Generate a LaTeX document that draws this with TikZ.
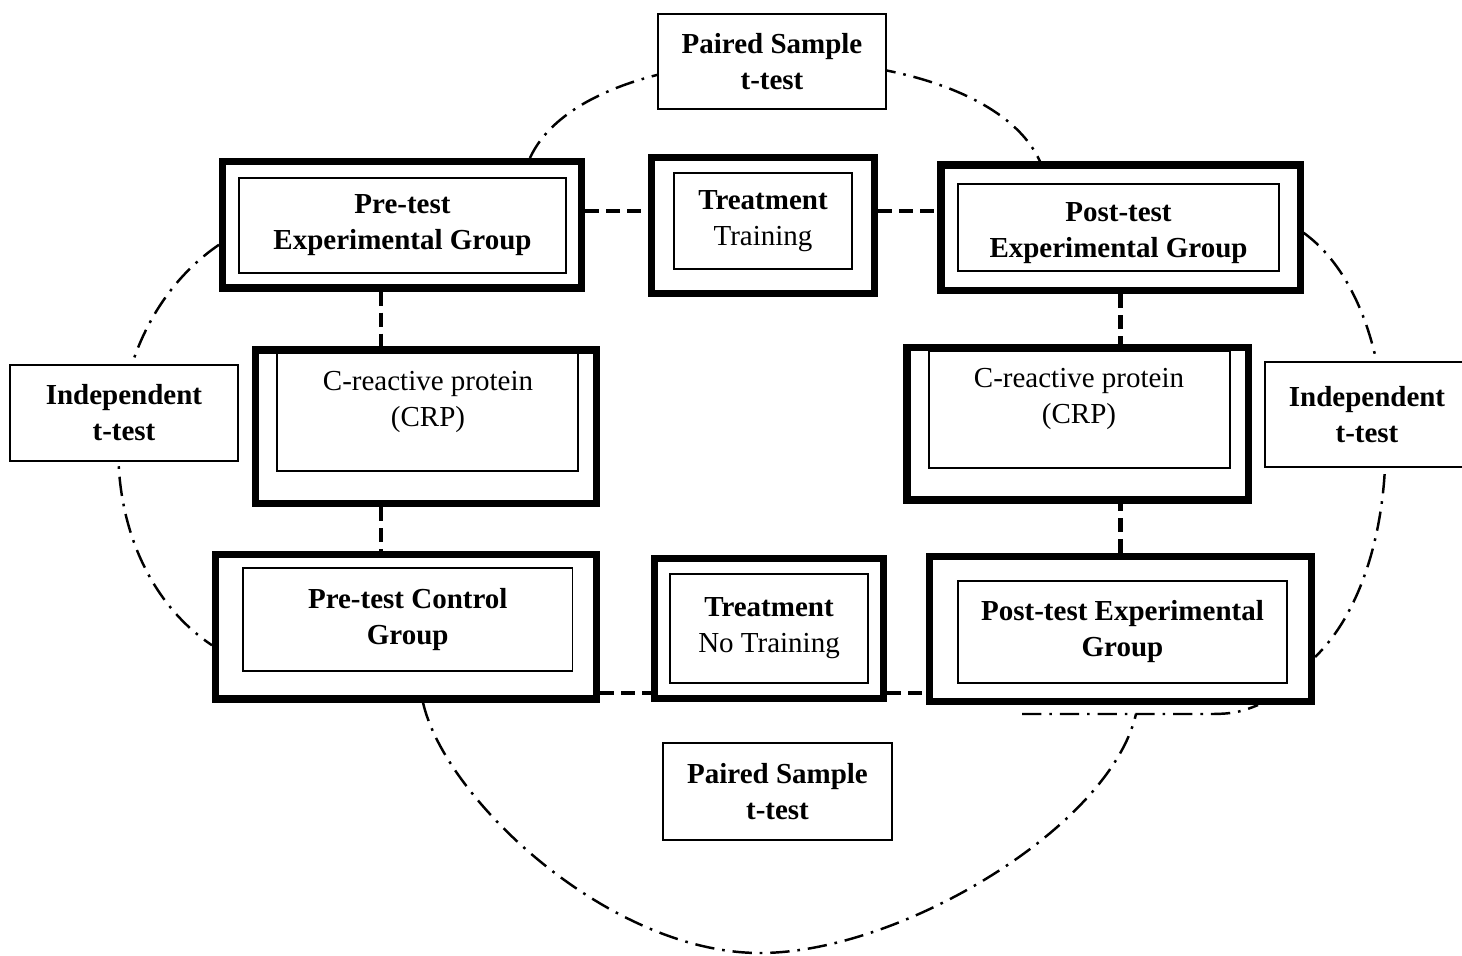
\documentclass[tikz,border=0pt]{standalone}
\usepackage{fontspec}
\setmainfont{Liberation Serif}
\usepackage{tikz}
\usetikzlibrary{positioning,calc,backgrounds}
\newcommand{\boxfont}{\fontsize{16.5}{20.5}\selectfont}

\begin{document}
\begin{tikzpicture}[
    outerbox/.style={rectangle, draw, line width=4pt, fill=white, inner sep=0pt},
    innerbox/.style={rectangle, draw, line width=0.8pt, fill=white, inner sep=0pt, align=center, font=\boxfont\bfseries},
    testbox/.style={rectangle, draw, line width=0.8pt, fill=white, inner sep=0pt, align=center, font=\boxfont\bfseries},
    txt/.style={align=center, font=\boxfont},
    link/.style={line width=2.4pt, dash pattern=on 8pt off 4pt},
    arcline/.style={line width=1.4pt, dash pattern=on 11pt off 4.5pt on 1.5pt off 4.5pt},
]
    \useasboundingbox (0,0) rectangle (29.24,-19.1);

    % Statistical tests
    \node[testbox, minimum width=4.56cm, minimum height=1.9cm] (pairedt) at (15.44,-1.23) {Paired Sample\\t-test};
    \node[testbox, minimum width=4.56cm, minimum height=1.92cm] (indl) at (2.48,-8.26) {Independent\\t-test};
    \node[testbox, minimum width=4.08cm, minimum height=2.1cm] (indr) at (27.34,-8.29) {Independent\\t-test};
    \node[testbox, minimum width=4.58cm, minimum height=1.94cm] (pairedb) at (15.55,-15.83) {Paired Sample\\t-test};

    % Experimental row
    \node[outerbox, minimum width=7.18cm, minimum height=2.53cm] (preexp) at (8.04,-4.495) {};
    \node[innerbox, minimum width=6.54cm, minimum height=1.9cm] (preexpin) at (8.05,-4.51) {Pre-test\\Experimental Group};
    \node[outerbox, minimum width=4.46cm, minimum height=2.72cm] (treat) at (15.26,-4.51) {};
    \node[innerbox, minimum width=3.56cm, minimum height=1.92cm] (treatin) at (15.26,-4.42) {Treatment\\{\mdseries Training}};
    \node[outerbox, minimum width=7.18cm, minimum height=2.51cm] (postexp) at (22.41,-4.555) {};
    \node[innerbox, minimum width=6.42cm, minimum height=1.74cm] (postexpin) at (22.37,-4.55) {};
    \node[txt, font=\boxfont\bfseries] (postexptxt) at (22.37,-4.66) {Post-test\\Experimental Group};

    % CRP measures
    \node[outerbox, minimum width=6.82cm, minimum height=3.07cm] (crpl) at (8.52,-8.535) {};
    \node[innerbox, minimum width=6.02cm, minimum height=2.36cm] (crplin) at (8.55,-8.24) {};
    \node[txt] (crpltxt) at (8.56,-8.04) {C-reactive protein\\(CRP)};
    \node[outerbox, minimum width=6.82cm, minimum height=3.05cm] (crpr) at (21.55,-8.475) {};
    \node[innerbox, minimum width=6.02cm, minimum height=2.34cm] (crprin) at (21.59,-8.19) {};
    \node[txt] (crprtxt) at (21.58,-7.98) {C-reactive protein\\(CRP)};

    % Control row
    \node[outerbox, minimum width=7.62cm, minimum height=2.89cm] (precon) at (8.12,-12.535) {};
    \node[innerbox, minimum width=6.59cm, minimum height=2.06cm] (preconin) at (8.155,-12.39) {Pre-test Control\\Group};
    \node[outerbox, minimum width=4.58cm, minimum height=2.8cm] (treatnt) at (15.38,-12.57) {};
    \node[innerbox, minimum width=3.96cm, minimum height=2.18cm] (treatntin) at (15.38,-12.57) {Treatment\\{\mdseries No Training}};
    \node[outerbox, minimum width=7.64cm, minimum height=2.9cm] (postbot) at (22.41,-12.58) {};
    \node[innerbox, minimum width=6.58cm, minimum height=2.04cm] (postbotin) at (22.45,-12.64) {Post-test Experimental\\Group};

    % Dashed links
    \draw[link] ([yshift=0.275cm]preexp.east) -- ([yshift=0.275cm]preexp.east -| treat.west);
    \draw[link] ([yshift=0.29cm]treat.east) -- ([yshift=0.29cm]treat.east -| postexp.west);
    \draw[link] ([xshift=-0.42cm]preexp.south) -- ([xshift=-0.42cm]preexp.south |- crpl.north);
    \draw[link] ([xshift=-0.9cm]crpl.south) -- ([xshift=-0.9cm]crpl.south |- precon.north);
    \draw[link] (postexp.south) -- (postexp.south |- crpr.north);
    \draw[link] (postbot.north) -- (postbot.north |- crpr.south);
    \draw[link] ([yshift=-1.325cm]precon.east) -- ([yshift=-1.325cm]precon.east -| treatnt.west);
    \draw[link] ([yshift=-1.29cm]treatnt.east) -- ([yshift=-1.29cm]treatnt.east -| postbot.west);

    % Dash-dot arcs
    \coordinate (botmid) at (15.2,-19.06);
    \coordinate (botend) at (22.72,-14.28);
    \coordinate (tailst) at (20.44,-14.28);
    \begin{scope}[on background layer]
        \draw[arcline] ([xshift=2.56cm]preexp.north) .. controls +(1.2,2.64) and +(-1.2,2.66) .. ([xshift=-1.61cm]postexp.north);
        \draw[arcline] ([yshift=-0.4cm]preexp.west) .. controls +(-2.64,-1.8) and +(-2.54,1.7) .. ([yshift=-0.37cm]precon.west);
        \draw[arcline] ([yshift=-0.1cm]postexp.east) .. controls +(2.14,-1.54) and +(1.92,1.84) .. ([yshift=-0.56cm]postbot.east);
        \draw[arcline] ([xshift=0.34cm]precon.south) .. controls +(0.44,-1.94) and +(-3.0,0) .. (botmid)
            .. controls +(2.8,0) and +(-0.52,-2.26) .. (botend);
        \draw[arcline] (tailst) -- ++(3.76,0) .. controls +(0.5,0) and +(-0.3,-0.12) .. ([xshift=2.75cm]postbot.south);
    \end{scope}
\end{tikzpicture}
\end{document}
